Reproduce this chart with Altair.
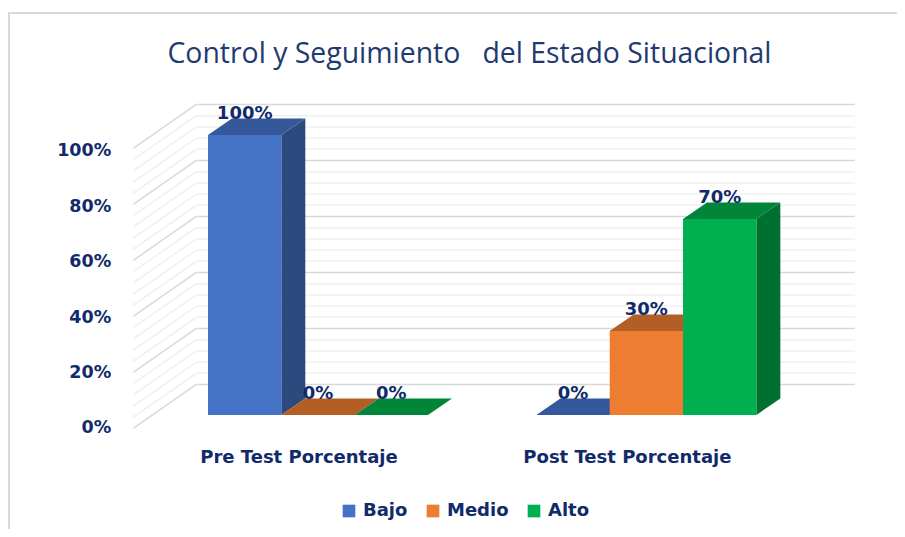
import altair as alt
import pandas as pd

# ---- chart values ----
TITLE = "Control y Seguimiento \u00a0\u00a0del Estado Situacional"
GROUPS = ["Pre Test Porcentaje", "Post Test Porcentaje"]
SERIES = ["Bajo", "Medio", "Alto"]
PRE_VALUES = [100, 0, 0]
POST_VALUES = [0, 30, 70]
AXIS_TICKS = [0, 20, 40, 60, 80, 100]
GRID_TICKS = list(range(0, 101, 4))

# ---- styles ----
FRONT = ["#4472C4", "#ED7D31", "#00B050"]
TOP = ["#35589A", "#B35E24", "#008539"]
SIDE = ["#2C4A7E", "#A05220", "#007030"]
INK = "#112A6B"
TITLE_INK = "#1F3A70"
FONT_B = "DejaVu Sans"
W, H = 889, 521

# ---- projection constants (x unit = one bar width, y unit = percent) ----
PX_PER_BAR, PX_PER_PCT = 73.33, 2.8
X0_PAGE, Y0_PAGE = 208, 415
GROUP_STEP = 4.478
DEPTH_X, DEPTH_Y = 0.327, 5.9
WALL_L, WALL_R = -1.02, 8.82
WALL_BACK_X = -0.16
WALL_BACK_DY, WALL_FRONT_DY = 10.9, -4.8
AXIS_TEXT_STRETCH = 0.99

x_dom = [(8 - X0_PAGE) / PX_PER_BAR, (8 + W - X0_PAGE) / PX_PER_BAR]
y_dom = [(Y0_PAGE - 8 - H) / PX_PER_PCT, (Y0_PAGE - 8) / PX_PER_PCT]
xs = alt.Scale(domain=x_dom, nice=False, zero=False)
ys = alt.Scale(domain=y_dom, nice=False, zero=False)
X = lambda f: alt.X(f, type="quantitative", scale=xs, axis=None)
Y = lambda f: alt.Y(f, type="quantitative", scale=ys, axis=None)

bars, sides, tops = [], [], []
for g, vals in enumerate([PRE_VALUES, POST_VALUES]):
    for s, v in enumerate(vals):
        x0 = g * GROUP_STEP + s
        x1 = x0 + 1
        bid = f"{g}-{s}"
        bars.append(dict(id=bid, serie=SERIES[s], x0=x0, x1=x1, xc=x0 + .5, v=v, base=0, label=f"{v}%"))
        sides += [dict(id=bid, serie=SERIES[s], x=x1, top=v, bot=0),
                  dict(id=bid, serie=SERIES[s], x=x1 + DEPTH_X, top=v + DEPTH_Y, bot=DEPTH_Y)]
        tops += [dict(id=bid, serie=SERIES[s], y=v, l=x0, r=x1),
                 dict(id=bid, serie=SERIES[s], y=v + DEPTH_Y, l=x0 + DEPTH_X, r=x1 + DEPTH_X)]
bars, sides, tops = pd.DataFrame(bars), pd.DataFrame(sides), pd.DataFrame(tops)

grid = pd.DataFrame([dict(t=t, major=t % 20 == 0, xl=WALL_L, xb=WALL_BACK_X, xr=WALL_R,
                          yf=t + WALL_FRONT_DY, yb=t + WALL_BACK_DY) for t in GRID_TICKS])
minor, major = grid[~grid.major], grid[grid.major]


def wall(df, color, width):
    back = alt.Chart(df).mark_rule(color=color, strokeWidth=width).encode(
        x=X("xb"), x2="xr", y=Y("yb"))
    left = alt.Chart(df).mark_rule(color=color, strokeWidth=width).encode(
        x=X("xl"), x2="xb", y=Y("yf"), y2="yb")
    return [back, left]


frame_left = alt.Chart(pd.DataFrame({"a": [0]})).mark_rule(color="#d9d9d9", strokeWidth=2).encode(
    x=alt.value(1), y=alt.value(5), y2=alt.value(H))
frame_top = alt.Chart(pd.DataFrame({"a": [0]})).mark_rule(color="#d9d9d9", strokeWidth=2).encode(
    x=alt.value(0), x2=alt.value(W), y=alt.value(5))

side_l = alt.Chart(sides).mark_area(opacity=1).encode(
    x=X("x"), y=Y("top"), y2="bot", detail="id:N",
    color=alt.Color("serie:N", scale=alt.Scale(domain=SERIES, range=SIDE), legend=None))
top_l = alt.Chart(tops).mark_area(orient="horizontal", opacity=1).encode(
    y=Y("y"), x=X("l"), x2="r", detail="id:N",
    color=alt.Color("serie:N", scale=alt.Scale(domain=SERIES, range=TOP), legend=None))
front_l = alt.Chart(bars).mark_rect(opacity=1).encode(
    x=X("x0"), x2="x1", y=Y("v"), y2="base",
    color=alt.Color("serie:N", sort=SERIES, scale=alt.Scale(domain=SERIES, range=FRONT),
                    legend=alt.Legend(title=None, orient="none", legendX=332, legendY=494,
                                      direction="horizontal", columns=3, symbolType="square",
                                      symbolSize=160, symbolStrokeWidth=0, symbolOpacity=1,
                                      labelFont=FONT_B, labelFontSize=18, labelFontWeight="bold",
                                      labelColor=INK, labelOffset=5, columnPadding=16,
                                      gridAlign="none", padding=0)))
labels = alt.Chart(bars).mark_text(font=FONT_B, fontSize=18, fontWeight="bold", color=INK,
                                   baseline="middle", dy=-21.5).encode(x=X("xc"), y=Y("v"), text="label:N")

ax = pd.DataFrame({"t": AXIS_TICKS, "label": [f"{t}%" for t in AXIS_TICKS],
                   "y": [t * AXIS_TEXT_STRETCH + WALL_FRONT_DY for t in AXIS_TICKS],
                   "x": [WALL_L] * len(AXIS_TICKS)})
ax_l = alt.Chart(ax).mark_text(font=FONT_B, fontSize=17.5, fontWeight="bold", color=INK,
                               align="right", baseline="middle", dx=-22).encode(
    x=X("x"), y=Y("y"), text="label:N")

cats = pd.DataFrame({"g": GROUPS, "x": [i * GROUP_STEP + 1.5 for i in range(2)], "y": [0, 0]})
cat_l = alt.Chart(cats).mark_text(font=FONT_B, fontSize=18, fontWeight="bold", color=INK,
                                  baseline="middle", dx=-19, dy=43).encode(
    x=X("x"), y=Y("y"), text="g:N")

title_l = alt.Chart(pd.DataFrame({"t": [TITLE]})).mark_text(
    font="Open Sans", fontSize=28.4, color=TITLE_INK, baseline="middle", align="center").encode(
    x=alt.value(461.5), y=alt.value(46), text="t:N")

chart = alt.layer(
    frame_left, frame_top, title_l,
    *wall(minor, "#f0f0f0", 1.5), *wall(major, "#d9d9d9", 1.5),
    side_l, top_l, front_l, labels, ax_l, cat_l,
).resolve_scale(color="independent").properties(
    width=W, height=H, padding=0, autosize=alt.AutoSizeParams(type="none"),
    background="white",
).configure_view(stroke=None)

chart.save("out.html", embed_options={"renderer": "svg", "actions": False})
